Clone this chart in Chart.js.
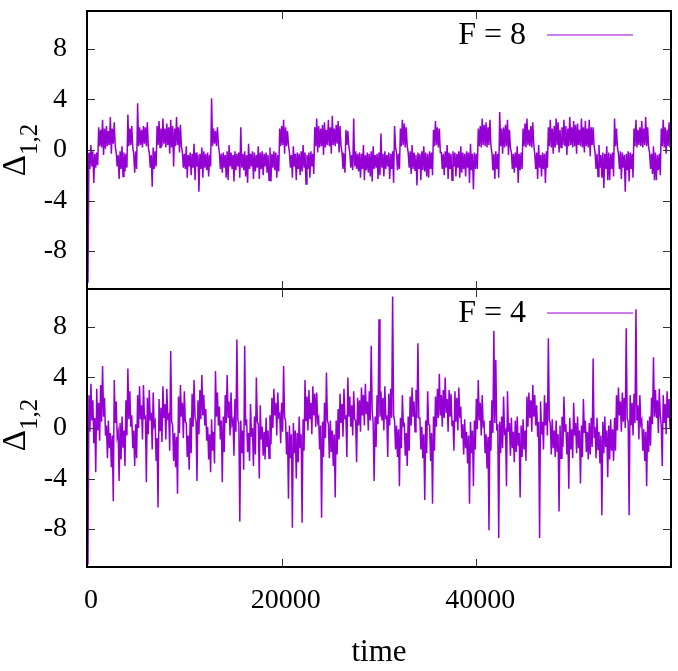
<!DOCTYPE html>
<html><head><meta charset="utf-8">
<script src="https://cdn.jsdelivr.net/npm/chart.js@4.4.1/dist/chart.umd.min.js"></script>
<style>
html,body{margin:0;padding:0;background:#fff;}
#wrap{position:relative;width:678px;height:671px;overflow:hidden;font-family:'Liberation Serif','Times New Roman',serif;}
.cv{position:absolute;left:0;}
.ylab{position:absolute;width:120px;height:40px;line-height:40px;text-align:center;font-size:33px;color:#000;transform:rotate(-90deg);white-space:nowrap;}
.ylab sub{font-size:25px;vertical-align:baseline;position:relative;top:12px;}
</style></head><body>
<div id="wrap">
<canvas id="c1" class="cv" width="678" height="290" style="top:0;width:678px;height:290px"></canvas>
<canvas id="c2" class="cv" width="678" height="392" style="top:279px;width:678px;height:392px"></canvas>
<div class="ylab" style="left:-46px;top:130px">Δ<sub>1,2</sub></div>
<div class="ylab" style="left:-46px;top:405px">Δ<sub>1,2</sub></div>
</div>
<script>
const seriesLabels = ['F = 8', 'F = 4'];
const binWidth = 200;          // time units per bin; each bin holds the band's upper and lower value
const xTickValues = [0, 20000, 40000];
const yTickValues = [-8, -4, 0, 4, 8];

// F = 8 : upper / lower edge of the trace in each bin
const upperF8 = [
-0.3,-0.2,0.4,-0.1,-0.3,-0.2,1.8,1.6,2.4,1.7,
1.9,1.5,2.6,1.7,2.2,-0.2,-0.4,-0.1,0.3,-0.2,
-0.3,2.8,1.7,1.9,-0.3,-0.1,3.7,1.8,1.6,1.9,
1.8,2.2,-0.2,-0.4,0.2,-0.1,1.9,2.3,1.7,2.5,
1.7,2.1,1.8,2.4,1.9,1.7,2.6,1.8,2.0,-0.2,
-0.3,0.3,-0.4,-0.2,-0.3,0.5,-0.2,-0.4,-0.3,0.2,
-0.1,-0.3,-0.2,-0.4,4.1,1.7,1.5,1.8,-0.2,-0.3,
-0.2,-0.4,-0.1,0.4,-0.2,-0.4,-0.1,-0.3,-0.2,1.8,
-0.3,-0.1,-0.4,0.5,-0.3,-0.1,-0.2,-0.4,0.3,-0.2,
-0.1,-0.3,-0.2,-0.4,0.2,-0.3,-0.1,-0.2,-0.4,1.7,
1.9,2.4,1.8,1.5,-0.2,-0.4,0.3,-0.3,-0.2,-0.3,
-0.1,0.4,-0.2,-0.4,-0.2,-0.1,-0.3,1.8,2.5,1.9,
1.7,2.0,2.2,1.6,2.4,1.8,2.7,1.7,2.0,2.3,
1.9,-0.2,-0.3,1.6,1.5,-0.2,-0.4,2.5,-0.1,-0.3,
-0.2,-0.3,0.4,-0.4,-0.2,-0.3,-0.1,0.3,-0.4,-0.3,
-0.2,1.3,-0.3,-0.1,-0.4,-0.2,-0.3,-0.1,1.9,-0.2,
-0.3,1.7,2.4,2.1,1.8,-0.2,-0.1,0.4,-0.2,-0.4,
-0.2,-0.3,-0.1,0.3,-0.2,-0.3,-0.1,-0.2,1.6,2.3,
1.8,1.7,-0.2,-0.3,-0.1,0.4,-0.2,-0.3,-0.1,-0.2,
-0.3,-0.1,0.3,-0.2,-0.3,-0.1,-0.2,0.5,-0.3,-0.2,
-0.3,1.7,1.9,2.5,2.0,2.2,1.8,2.4,-0.2,-0.3,
-0.1,-0.3,3.0,1.7,1.8,2.0,2.4,1.6,-0.2,-0.3,
-0.2,0.3,-0.3,-0.2,1.7,2.1,2.5,1.6,1.9,2.2,
-0.3,-0.2,0.4,-0.4,-0.2,-0.3,-0.1,1.8,2.4,1.7,
1.9,2.5,2.2,1.6,1.8,2.4,1.9,1.7,2.6,1.8,
2.3,2.0,2.1,1.6,2.5,1.8,2.3,1.7,2.4,1.8,
1.8,-0.2,-0.3,0.4,-0.4,-0.2,-0.3,0.3,-0.2,-0.3,
-0.2,2.5,1.7,-0.3,-0.1,-0.2,-0.4,-0.3,-0.1,-0.2,
-0.3,1.7,2.4,1.6,1.8,2.3,1.7,2.6,1.8,-0.2,
-0.3,0.3,-0.2,-0.4,-0.3,1.7,2.4,1.8,1.6,2.2
];
const lowerF8 = [
-10.5,-1.5,-1.3,-2.6,-1.4,-1.2,0.3,0.2,-0.4,0.1,
0.3,0.4,-0.3,0.5,0.3,-1.3,-2.3,-1.5,-2.1,-1.7,
-1.4,0.3,0.4,0.2,-1.8,-1.5,0.3,0.4,0.2,0.5,
0.3,0.2,-1.4,-2.9,-1.5,-1.3,0.4,0.2,0.3,0.5,
0.2,0.4,-0.3,0.2,-1.3,0.3,0.4,-0.2,0.3,-1.4,
-1.5,-2.2,-1.3,-2.0,-1.4,-2.4,-1.3,-3.3,-1.5,-2.2,
-1.4,-1.6,-2.1,-1.3,0.3,0.5,0.3,0.4,-1.5,-1.8,
-1.4,-2.2,-2.4,-1.3,-1.5,-2.5,-1.6,-1.3,-2.2,-1.4,
-1.6,-2.1,-2.6,-1.5,-1.3,-2.3,-1.7,-1.4,-2.3,-1.5,
-2.0,-1.3,-1.8,-2.4,-2.5,-1.4,-1.6,-2.2,-1.7,0.3,
0.4,-0.3,0.3,0.4,-1.4,-2.2,-1.3,-2.4,-1.5,-2.0,
-1.7,-1.4,-2.7,-1.5,-2.2,-1.3,-1.9,0.3,-0.2,0.2,
0.3,-0.4,0.2,0.4,0.3,-0.3,0.4,0.3,0.5,-0.2,
0.3,-1.5,-1.8,0.4,0.3,-1.4,-1.6,-1.3,-1.5,-1.7,
-2.2,-1.5,-2.4,-1.6,-1.8,-2.1,-2.5,-1.5,-1.4,-2.3,
-2.0,-1.4,-2.1,-1.5,-1.3,-2.3,-1.5,-2.6,0.2,-1.6,
-1.5,0.3,0.4,0.2,0.3,-1.4,-1.9,-1.5,-1.6,-2.8,
-1.5,-2.4,-1.6,-1.7,-2.1,-2.2,-1.5,-2.0,0.3,0.4,
0.2,-0.2,-1.5,-2.0,-1.4,-2.3,-1.5,-2.4,-1.3,-2.1,
-1.4,-2.2,-1.8,-1.5,-2.1,-1.4,-2.6,-1.6,-3.1,-1.5,
-1.5,0.3,0.2,0.4,0.3,0.2,0.4,0.3,-1.6,-2.3,
-1.5,-2.2,0.3,-0.3,0.2,0.3,-0.4,0.2,-1.5,-1.8,
-1.4,-2.6,-1.6,-1.5,0.3,0.2,0.4,0.3,0.2,0.4,
-1.5,-2.3,-1.4,-2.1,-1.5,-2.6,-1.4,0.3,0.2,-0.3,
0.2,0.4,-0.2,0.2,0.4,0.3,-0.4,0.3,0.4,0.2,
0.3,-0.3,0.4,0.3,0.2,-0.2,0.3,0.2,-0.5,0.4,
0.3,-1.5,-2.1,-1.4,-2.2,-3.0,-1.5,-2.4,-2.4,-1.5,
-2.1,0.3,0.2,-1.5,-2.3,-1.4,-3.3,-1.6,-2.5,-1.5,
-2.2,0.3,0.2,0.4,0.3,0.2,0.4,0.3,0.2,-1.5,
-1.9,-2.4,-2.4,-1.6,-2.0,0.3,0.2,-0.3,0.3,0.2
];

// F = 4 : upper / lower edge of the trace in each bin
const upperF4 = [
1.0,2.6,3.5,2.2,0.8,3.1,2.0,3.4,4.9,2.4,
0.2,0.6,-0.4,-0.6,3.8,2.1,-0.3,0.4,0.9,-0.2,
2.2,4.7,2.9,1.0,-0.2,0.3,2.6,3.3,1.8,3.4,
0.9,2.4,3.0,1.2,2.8,0.5,-0.8,2.3,1.6,3.3,
1.9,3.1,1.0,6.1,0.2,-0.4,-0.7,2.5,3.4,2.0,
2.9,0.4,-0.6,0.8,2.7,3.8,0.5,2.2,3.0,4.2,
2.6,1.5,0.1,-0.5,0.7,-0.3,4.5,2.8,1.7,0.6,
0.9,2.6,4.2,2.1,2.8,0.6,2.3,7.0,0.4,0.6,
-0.2,6.5,0.7,-0.4,1.9,0.0,0.9,4.0,0.3,1.8,
0.1,-0.3,0.8,-0.2,1.0,2.4,3.1,2.0,2.8,1.1,
2.0,4.9,0.6,-0.3,0.2,-0.5,0.4,-0.2,-0.4,0.9,
-0.5,0.7,3.8,2.5,3.0,2.0,3.3,2.7,2.8,0.8,
0.2,0.5,2.0,4.4,0.3,0.6,-0.2,-0.5,0.6,1.5,
2.7,1.9,3.1,0.9,4.0,2.5,1.8,2.9,0.6,2.4,
2.2,3.2,2.6,3.5,2.1,2.9,6.5,0.4,0.9,2.6,
8.6,2.9,2.4,3.3,0.9,2.7,3.1,10.4,0.6,0.2,
-0.1,0.8,2.6,0.3,-0.4,0.9,2.5,3.2,2.1,3.0,
6.7,0.8,0.1,-0.5,0.6,2.9,0.2,-0.4,0.9,2.5,
3.1,4.3,2.6,3.0,4.0,2.3,3.0,2.7,0.6,2.9,
2.4,3.2,1.7,0.3,0.7,-0.3,-0.6,0.5,-0.2,0.6,
2.3,3.8,2.0,2.6,0.4,-0.5,-0.7,0.6,2.2,7.7,
5.4,0.3,0.5,0.9,2.5,-0.2,2.9,0.4,0.8,-0.3,
0.6,0.9,-0.4,0.2,0.7,-0.2,2.5,2.8,2.2,3.4,
2.6,1.8,0.5,2.1,0.5,2.6,2.0,7.1,0.4,0.7,
-0.2,0.6,-0.5,0.2,0.9,2.5,0.3,-0.3,0.8,-0.1,
2.0,0.4,0.9,-0.2,0.2,2.3,0.6,-0.3,0.4,0.8,
5.5,0.1,0.8,-0.3,-0.6,0.5,0.9,-0.2,0.2,0.7,
-0.1,0.8,2.6,3.2,2.1,2.8,2.4,7.9,0.5,2.6,
2.0,2.7,9.4,1.8,2.6,0.6,-0.1,-0.3,0.6,0.9,
2.4,5.6,3.0,2.2,3.1,0.2,2.6,1.9,2.9,2.3
];
const lowerF4 = [
-10.8,-0.3,0.6,-1.2,-3.5,-0.2,-1.0,0.5,0.9,-0.6,
-2.4,-1.6,-3.1,-5.8,0.4,-0.7,-4.2,-2.5,-1.5,-3.0,
-0.6,0.7,0.1,-1.6,-3.0,-2.4,0.0,0.7,-0.9,0.8,
-4.3,-0.5,0.6,-1.7,0.2,-2.6,-6.3,-0.2,-1.1,0.8,
-0.9,0.8,-1.8,0.5,-2.6,-3.1,-5.2,-0.4,0.9,-0.8,
0.5,-2.3,-3.3,-2.0,0.1,0.9,-4.2,-0.5,0.7,1.0,
0.2,-1.0,-2.5,-3.5,-1.8,-2.8,0.9,0.2,-0.9,-4.3,
-1.9,0.4,0.8,-0.6,0.3,-2.2,-0.3,0.6,-7.4,-2.0,
-3.3,0.2,-1.9,-2.6,-0.7,-3.0,-2.1,0.5,-4.0,-0.9,
-2.2,-2.5,-1.5,-2.4,-1.3,0.0,1.0,-0.6,0.9,-1.2,
-0.3,0.8,-2.1,-5.6,-2.4,-7.9,-2.0,-4.0,-2.7,-1.6,
-7.5,-1.8,0.6,-0.2,0.7,-0.5,1.0,0.1,0.5,-1.7,
-7.1,-2.3,-0.8,0.6,-2.4,-1.9,-3.0,-5.5,-2.1,-0.9,
0.4,-0.7,0.8,-2.3,0.9,0.1,-0.6,0.7,-2.7,0.2,
-0.3,1.0,0.2,1.1,-0.2,0.6,1.3,-4.2,-1.5,0.3,
0.9,0.6,-0.2,0.8,-2.3,0.2,0.8,1.0,-1.7,-2.3,
-4.6,-1.6,0.2,-2.2,-3.0,-1.8,0.2,0.9,-0.3,0.8,
0.8,-1.7,-2.4,-5.7,-2.0,0.3,-2.6,-6.0,-1.8,0.1,
0.8,1.0,0.1,0.8,1.2,-0.3,0.9,0.2,-1.8,0.5,
-0.2,0.8,-0.8,-2.1,-1.6,-2.8,-6.0,-2.0,-4.6,-1.7,
-0.1,0.6,-0.6,0.2,-2.0,-3.2,-8.1,-1.8,-0.4,0.4,
-0.2,-8.7,-2.0,-1.6,-0.4,-4.6,-0.3,-2.2,-1.6,-2.7,
-1.9,-1.4,-5.5,-2.3,-1.7,-2.6,0.1,0.8,-0.3,0.9,
0.2,-0.7,-8.7,-0.5,-1.7,0.2,-0.6,0.6,-2.1,-1.6,
-2.3,-1.9,-6.6,-2.4,-1.5,-0.3,-2.1,-4.8,-1.7,-2.4,
-0.6,-2.0,-1.6,-4.4,-2.3,-0.4,-1.9,-2.5,-2.1,-1.5,
-0.8,-2.4,-1.7,-2.8,-6.9,-2.0,-1.5,-3.9,-2.5,-1.8,
-2.6,-1.8,-0.2,1.0,-0.3,0.5,0.0,0.8,-6.9,0.2,
-0.6,0.4,0.6,-0.9,0.3,-1.8,-2.6,-4.6,-1.9,-1.4,
0.3,0.9,0.8,-0.4,1.0,-3.0,0.4,-0.5,0.8,0.0
];

const FONT = "'Liberation Serif', 'Times New Roman', serif";
const LINE_COLOR = '#9400D3';

// trace visits the upper edge at the start of each bin and the lower edge at its middle
function tracePoints(upper, lower) {
  const pts = [];
  upper.forEach((u, i) => {
    pts.push({x: i * binWidth, y: u});
    pts.push({x: i * binWidth + binWidth / 2, y: lower[i]});
  });
  return pts;
}

const framePlugin = {
  id: 'frame',
  afterDraw(chart) {
    const {ctx, chartArea: a, scales} = chart;
    ctx.save();
    const seg = (x1, y1, x2, y2) => { ctx.beginPath(); ctx.moveTo(x1, y1); ctx.lineTo(x2, y2); ctx.stroke(); };
    ctx.strokeStyle = '#333'; ctx.lineWidth = 1;
    yTickValues.forEach(v => {
      const y = Math.round(scales.y.getPixelForValue(v)) + 0.5;
      seg(a.left, y, a.left + 8, y); seg(a.right, y, a.right - 8, y);
    });
    xTickValues.forEach(v => {
      const x = Math.round(scales.x.getPixelForValue(v)) + 0.5;
      seg(x, a.top, x, a.top + 8); seg(x, a.bottom, x, a.bottom - 8);
    });
    ctx.strokeStyle = '#000'; ctx.lineWidth = 2;
    ctx.strokeRect(a.left, a.top, a.right - a.left, a.bottom - a.top);
    ctx.font = '32px ' + FONT; ctx.fillStyle = '#000';
    ctx.textAlign = 'right'; ctx.textBaseline = 'middle';
    ctx.fillText(chart.data.datasets[0].label, a.right - 145, a.top + 25);
    ctx.strokeStyle = LINE_COLOR; ctx.lineWidth = 1;
    seg(a.right - 124, a.top + 24, a.right - 38, a.top + 24);
    ctx.restore();
  }
};

function makeChart(id, upper, lower, label, bottomAxis, pad) {
  const xScale = bottomAxis ? {
    type: 'linear', min: 0, max: 60000,
    afterBuildTicks: s => { s.ticks = xTickValues.map(v => ({value: v})); },
    afterFit: s => { s.height = 104; s.paddingLeft = 0; s.paddingRight = 0; },
    grid: {display: false, drawTicks: false}, border: {display: false},
    ticks: {padding: 17, labelOffset: 4, maxRotation: 0, autoSkip: false, color: '#000',
            font: {family: FONT, size: 28}, callback: v => String(v)},
    title: {display: true, text: 'time', color: '#000', font: {family: FONT, size: 31}, padding: {top: 2, bottom: 0}}
  } : {type: 'linear', min: 0, max: 60000, display: false};
  return new Chart(document.getElementById(id), {
    type: 'line',
    data: {datasets: [{label, data: tracePoints(upper, lower), borderColor: LINE_COLOR, borderWidth: 1.5,
                       pointRadius: 0, tension: 0, fill: false}]},
    options: {
      responsive: false, maintainAspectRatio: false, animation: false, devicePixelRatio: 1,
      layout: {padding: pad},
      plugins: {legend: {display: false}, tooltip: {enabled: false}},
      scales: {
        x: xScale,
        y: {
          type: 'linear', min: -11, max: 11,
          afterBuildTicks: s => { s.ticks = yTickValues.map(v => ({value: v})); },
          afterFit: s => { s.width = 87; s.paddingTop = 0; s.paddingBottom = 0; },
          grid: {display: false, drawTicks: false}, border: {display: false},
          ticks: {padding: 20, color: '#000', font: {family: FONT, size: 28}, callback: v => String(v)}
        }
      }
    },
    plugins: [framePlugin]
  });
}

makeChart('c1', upperF8, lowerF8, seriesLabels[0], false, {top: 11, right: 7, left: 0, bottom: 1});
makeChart('c2', upperF4, lowerF4, seriesLabels[1], true, {top: 10, right: 7, left: 0, bottom: 0});
</script>
</body></html>
